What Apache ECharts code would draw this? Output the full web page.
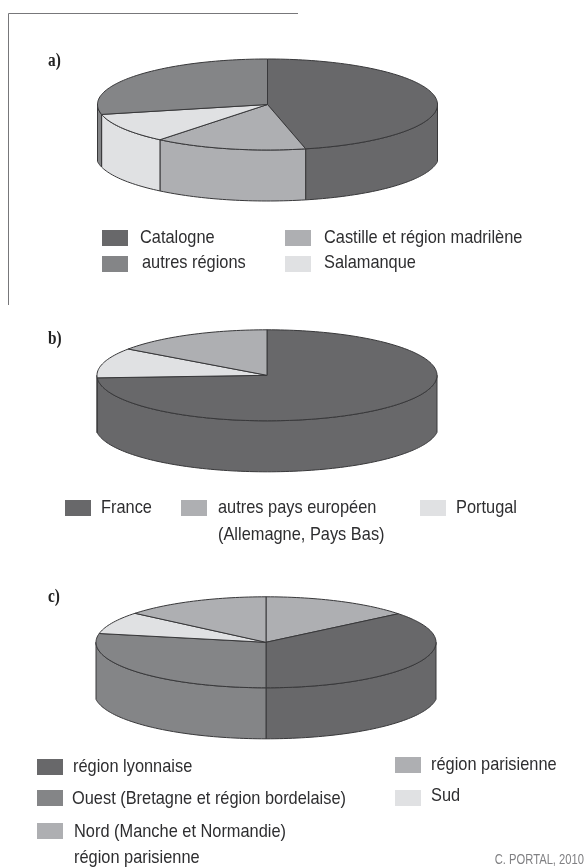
<!DOCTYPE html>
<html>
<head>
<meta charset="utf-8">
<style>html,body{margin:0;padding:0;background:#fff}#c{width:585px;height:868px}</style>
<script src="https://cdn.jsdelivr.net/npm/echarts@6/dist/echarts.min.js"></script>
</head>
<body>
<div id="c"></div>
<script>
// ---- data (percent shares, clockwise from 12 o'clock) ----
const slicesA = ['Catalogne', 'Castille et région madrilène', 'Salamanque', 'autres régions'];
const valuesA = [46.4, 14.5, 10.6, 28.5];
const slicesB = ['France', 'Portugal', 'autres pays européen'];
const valuesB = [74.1, 10.7, 15.2];
const slicesC = ['région parisienne', 'région lyonnaise', 'Ouest', 'Sud', 'Nord'];
const valuesC = [14.2, 35.8, 28.1, 7.9, 14.0];

// ---- styles ----
const DARK = '#68686a', MID = '#848587', LIGHT = '#aeafb2', PALE = '#e0e1e3';
const colorsA = [DARK, LIGHT, PALE, MID];
const colorsB = [DARK, PALE, LIGHT];
const colorsC = [LIGHT, DARK, MID, PALE, LIGHT];
const EDGE = '#38383a', TXT = '#2e2e30';
const FONT = '"Liberation Sans",Arial,sans-serif';

// ---- layout ----
const RX = 170, RY = 45.5, DEPTH = 51, RX_BOTTOM = 171.5;
const pies = [
  {cx: 267.5, cy: 104.5, values: valuesA, names: slicesA, colors: colorsA},
  {cx: 267, cy: 375.3, values: valuesB, names: slicesB, colors: colorsB},
  {cx: 266, cy: 642.3, values: valuesC, names: slicesC, colors: colorsC}
];
const legendItems = [
  {t: 'Catalogne', c: DARK, sx: 102, sy: 230, tx: 140, ty: 238},
  {t: 'autres régions', c: MID, sx: 102, sy: 256, tx: 142, ty: 263},
  {t: 'Castille et région madrilène', c: LIGHT, sx: 285, sy: 230, tx: 324, ty: 238},
  {t: 'Salamanque', c: PALE, sx: 285, sy: 256, tx: 324, ty: 263},
  {t: 'France', c: DARK, sx: 65, sy: 500, tx: 101, ty: 508},
  {t: 'autres pays européen', c: LIGHT, sx: 181, sy: 500, tx: 218, ty: 508},
  {t: '(Allemagne, Pays Bas)', tx: 218, ty: 535},
  {t: 'Portugal', c: PALE, sx: 420, sy: 500, tx: 456, ty: 508},
  {t: 'région lyonnaise', c: DARK, sx: 37, sy: 759, tx: 73, ty: 767},
  {t: 'Ouest (Bretagne et région bordelaise)', c: MID, sx: 37, sy: 790, tx: 72, ty: 799},
  {t: 'Nord (Manche et Normandie)', c: LIGHT, sx: 37, sy: 823, tx: 74, ty: 832},
  {t: 'région parisienne', tx: 74, ty: 858},
  {t: 'région parisienne', c: LIGHT, sx: 395, sy: 757, tx: 431, ty: 765},
  {t: 'Sud', c: PALE, sx: 395, sy: 790, tx: 431, ty: 796}
];
const panelLabels = [
  {t: 'a)', x: 48, y: 61},
  {t: 'b)', x: 48, y: 339},
  {t: 'c)', x: 48, y: 597}
];

function pt(p, deg) {
  const a = deg * Math.PI / 180;
  return [p.cx + RX * Math.sin(a), p.cy - RY * Math.cos(a)];
}
// front rim of the lower disc: same x as the top rim, slightly wider ellipse, so it meets the walls at a corner
function lowPt(p, deg) {
  const a = deg * Math.PI / 180, dx = RX * Math.sin(a);
  return [p.cx + dx, p.cy + DEPTH + RY * Math.sqrt(1 - (dx / RX_BOTTOM) * (dx / RX_BOTTOM))];
}
function arc(fn, p, from, to) {
  const n = Math.max(2, Math.ceil(Math.abs(to - from) / 1.5));
  const out = [];
  for (let i = 0; i <= n; i++) out.push(fn(p, from + (to - from) * i / n));
  return out;
}
function angles(p, i) {
  const total = p.values.reduce((s, v) => s + v, 0);
  let acc = 0;
  for (let k = 0; k < i; k++) acc += p.values[k];
  return [acc / total * 360, (acc + p.values[i]) / total * 360];
}
function sideItem(p) {
  return function (params) {
    const [s, e] = angles(p, params.dataIndex);
    const from = Math.max(s, 90), to = Math.min(e, 270);
    if (to <= from) return {type: 'group', children: []};
    return {
      type: 'polygon',
      shape: {points: arc(pt, p, from, to).concat(arc(lowPt, p, to, from))},
      style: {fill: p.colors[params.dataIndex], stroke: EDGE, lineWidth: 1}
    };
  };
}
function topItem(p) {
  return function (params) {
    const [s, e] = angles(p, params.dataIndex);
    return {
      type: 'polygon',
      shape: {points: [[p.cx, p.cy]].concat(arc(pt, p, s, e))},
      style: {fill: p.colors[params.dataIndex], stroke: EDGE, lineWidth: 1, lineJoin: 'round'}
    };
  };
}

const series = [];
pies.forEach(p => {
  const data = p.values.map((v, i) => ({name: p.names[i], value: v}));
  series.push({type: 'custom', coordinateSystem: 'none', silent: true, z: 2, data, renderItem: sideItem(p), animation: false});
  series.push({type: 'custom', coordinateSystem: 'none', silent: true, z: 3, data, renderItem: topItem(p), animation: false});
});

const graphic = [
  {type: 'polyline', silent: true, shape: {points: [[8.5, 305], [8.5, 13.5], [298, 13.5]]},
   style: {fill: 'none', stroke: '#77777a', lineWidth: 1}}
];
legendItems.forEach(l => {
  if (l.c) graphic.push({type: 'rect', silent: true, shape: {x: l.sx, y: l.sy, width: 26, height: 16}, style: {fill: l.c}});
  graphic.push({type: 'text', silent: true, x: l.tx, y: l.ty, scaleX: 0.885,
    style: {text: l.t, fill: TXT, font: '18.5px ' + FONT, textAlign: 'left', textVerticalAlign: 'middle'}});
});
panelLabels.forEach(l => graphic.push({type: 'text', silent: true, x: l.x, y: l.y, scaleX: 0.85,
  style: {text: l.t, fill: '#222', font: 'bold 18px "Liberation Serif",serif', textAlign: 'left', textVerticalAlign: 'middle'}}));
graphic.push({type: 'text', silent: true, x: 584, y: 860, scaleX: 0.8,
  style: {text: 'C. PORTAL, 2010', fill: '#808083', font: '14px ' + FONT, textAlign: 'right', textVerticalAlign: 'middle'}});

const chart = echarts.init(document.getElementById('c'), null, {renderer: 'canvas', width: 585, height: 868});
chart.setOption({animation: false, backgroundColor: '#fff', series, graphic});
</script>
</body>
</html>
